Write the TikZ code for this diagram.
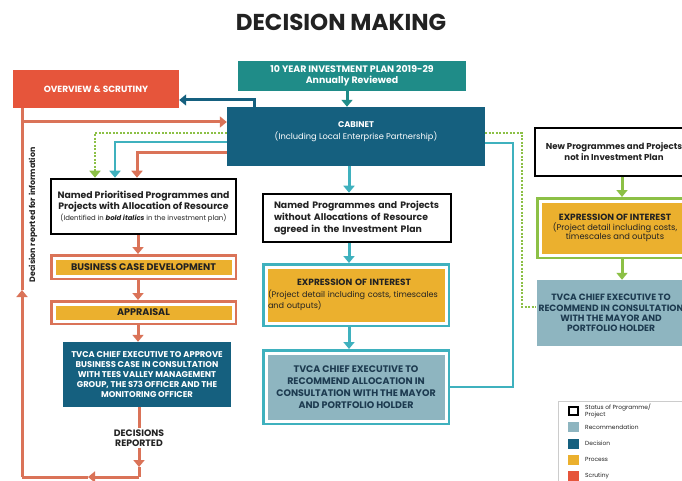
\documentclass[tikz,border=0pt]{standalone}
\usepackage{fontspec}
\setmainfont{Poppins}
\usetikzlibrary{arrows.meta}

\definecolor{scrutred}{HTML}{E6553B}
\definecolor{linered}{HTML}{DA7358}
\definecolor{planteal}{HTML}{1F8C88}
\definecolor{decblue}{HTML}{15607F}
\definecolor{procgold}{HTML}{EBB02E}
\definecolor{recgrey}{HTML}{8EB5C0}
\definecolor{rectext}{HTML}{1D3B50}
\definecolor{lineteal}{HTML}{3FB1BE}
\definecolor{linegreen}{HTML}{8CC046}
\definecolor{textdark}{HTML}{222222}

\begin{document}
\begin{tikzpicture}[x=1pt, y=-1pt, >={Triangle[width=11pt,length=7pt]},
	every node/.style={inner sep=2pt, align=center},
	statusbox/.style={draw=black, line width=2.5pt, fill=white, text=textdark, font=\fontsize{9.3}{11}\selectfont\bfseries},
	procbox/.style={fill=procgold, draw=white, line width=3pt, preaction={draw=#1, line width=8pt}, outer sep=4pt, text=textdark},
	decbox/.style={fill=decblue, text=white, font=\fontsize{8.4}{10.2}\selectfont\bfseries},
	recbox/.style={fill=recgrey, text=rectext, font=\fontsize{9.5}{12}\selectfont\bfseries},
	redline/.style={draw=linered, line width=3pt},
	tealline/.style={draw=lineteal, line width=2.5pt},
	greenline/.style={draw=linegreen, line width=2.5pt, dash pattern=on 2pt off 1.5pt},
	legsq/.style={minimum width=11pt, minimum height=10pt, inner sep=0pt},
	leglabel/.style={anchor=west, align=left, text=textdark, font=\fontsize{5.9}{5.9}\selectfont}]
	\clip (0,0) rectangle (682,481);
	\fill[white] (0,0) rectangle (682,481);
	\node[text=textdark, font=\fontsize{23}{26}\selectfont\bfseries] (title) at (341,22) {DECISION MAKING};

	% top row
	\node[fill=scrutred, text=white, minimum width=166pt, minimum height=38pt, font=\fontsize{9}{10}\selectfont\bfseries] (overview) at (96,89) {OVERVIEW \& SCRUTINY};
	\node[fill=planteal, text=white, minimum width=228pt, minimum height=30pt, font=\fontsize{9.4}{11}\selectfont\bfseries] (plan) at (352,76) {10 YEAR INVESTMENT PLAN 2019-29\\Annually Reviewed};
	\node[fill=decblue, text=white, minimum width=258pt, minimum height=59pt, text depth=12pt, font=\fontsize{8.3}{12}\selectfont] (cabinet) at (356,136.5) {\textbf{CABINET}\\(Including Local Enterprise Partnership)};

	% left column
	\node[statusbox, minimum width=185pt, minimum height=55pt, inner xsep=0pt] (prio) at (143.5,206.5) {Named Prioritised Programmes and\\Projects with Allocation of Resource\\{\fontsize{6.9}{10}\selectfont\mdseries (Identified in \textbf{\itshape bold italics} in the investment plan)}};
	\node[procbox=linered, minimum width=179pt, minimum height=18pt, font=\fontsize{9.6}{10}\selectfont\bfseries] (bcd) at (143.5,267) {BUSINESS CASE DEVELOPMENT};
	\node[procbox=linered, minimum width=179pt, minimum height=17pt, font=\fontsize{9.6}{10}\selectfont\bfseries] (appr) at (143.5,312.5) {APPRAISAL};
	\node[decbox, minimum width=168pt, minimum height=65pt] (approve) at (147,374.5) {TVCA CHIEF EXECUTIVE TO APPROVE\\BUSINESS CASE IN CONSULTATION\\WITH TEES VALLEY MANAGEMENT\\GROUP, THE S73 OFFICER AND THE\\MONITORING OFFICER};
	\node[text=textdark, font=\fontsize{9.3}{10.5}\selectfont\bfseries, inner sep=1pt] (reported) at (139,438) {DECISIONS\\REPORTED};
	\node[rotate=90, text=textdark, font=\fontsize{7.9}{9}\selectfont\bfseries] (sidenote) at (33,215) {Decision reported for information};

	% middle column
	\node[statusbox, align=left, text width=166pt, inner xsep=11pt, minimum height=48pt, font=\fontsize{9.3}{12}\selectfont\bfseries] (mid) at (357,218) {Named Programmes and Projects\\without Allocations of Resource\\agreed in the Investment Plan};
	\node[procbox=lineteal, align=left, text width=176pt, inner xsep=2pt, minimum width=180pt, minimum height=56pt, font=\fontsize{8.1}{11.5}\selectfont] (meoi) at (356,295) {\makebox[172pt]{\fontsize{9}{11.5}\selectfont\bfseries EXPRESSION OF INTEREST}\\(Project detail including costs, timescales\\and outputs)};
	\node[recbox, preaction={draw=lineteal, line width=8pt}, draw=white, line width=3pt, outer sep=4pt, minimum width=180pt, minimum height=68pt] (mrec) at (356,387) {TVCA CHIEF EXECUTIVE TO\\RECOMMEND ALLOCATION IN\\CONSULTATION WITH THE MAYOR\\AND PORTFOLIO HOLDER};

	% right column
	\node[statusbox, minimum width=158pt, minimum height=48pt, font=\fontsize{8.6}{11}\selectfont\bfseries] (new) at (614,152) {New Programmes and Projects\\not in Investment Plan};
	\node[procbox=linegreen, minimum width=150pt, minimum height=54pt, font=\fontsize{8.3}{9.5}\selectfont] (reoi) at (615,228) {\fontsize{9}{9.5}\selectfont\bfseries EXPRESSION OF INTEREST\\(Project detail including costs,\\timescales and outputs};
	\node[recbox, minimum width=148pt, minimum height=66pt, font=\fontsize{9.1}{10.2}\selectfont\bfseries] (rrec) at (611,313) {TVCA CHIEF EXECUTIVE TO\\RECOMMEND IN CONSULTATION\\WITH THE MAYOR AND\\PORTFOLIO HOLDER};
	\fill[recgrey] (rrec.north east) rectangle (690,346);

	% legend
	\draw[black!20, line width=0.6pt] (558,401) rectangle (700,495);
	\node[legsq, draw=black, line width=1.5pt, fill=white, minimum width=9pt, minimum height=8pt] (kstatus) at (573.5,411) {};
	\node[leglabel] (lstatus) at (583,411) {Status of Programme/\\Project};
	\node[legsq, fill=recgrey] (krec) at (573.5,427) {};
	\node[leglabel] (lrec) at (583,427) {Recommendation};
	\node[legsq, fill=decblue] (kdec) at (573.5,443.5) {};
	\node[leglabel] (ldec) at (583,443.5) {Decision};
	\node[legsq, fill=procgold] (kproc) at (573.5,459.5) {};
	\node[leglabel] (lproc) at (583,459.5) {Process};
	\node[legsq, fill=scrutred] (kscrut) at (573.5,476) {};
	\node[leglabel] (lscrut) at (583,476) {Scrutiny};

	% turning points
	\coordinate (bj) at (254,100);
	\coordinate (pcol) at (347,0);
	\coordinate (lx) at (22,122);
	\coordinate (gj) at (95,133);
	\coordinate (tj) at (115,142);
	\coordinate (rj) at (137,153);
	\coordinate (gr) at (522,133);
	\coordinate (gr2) at (522,307);
	\coordinate (tr) at (513,143);
	\coordinate (lcol) at (138,0);
	\coordinate (mcol) at (349,0);
	\coordinate (rcol) at (622,0);
	\coordinate (lmid) at (22,290);
	\coordinate (lbot) at (22,477);
	\coordinate (dtip) at (139,467);
	\coordinate (bcorner) at (139,477);
	\coordinate (btip) at (88,477);

	% connectors
	\draw[->, draw=planteal, line width=3pt] (plan.south -| pcol) -- (cabinet.north -| pcol);
	\draw[->, draw=decblue, line width=3pt] (cabinet.north -| bj) -- (bj) -- (overview.east |- bj);
	\draw[->, redline] (lx) -- (cabinet.west |- lx);
	\draw[->, redline] (lbot) -- (lmid);
	\draw[redline] (lmid) -- (overview.south -| lbot);
	\draw[->, greenline] (cabinet.west |- gj) -- (gj) -- (prio.north -| gj);
	\draw[->, tealline] (cabinet.west |- tj) -- (tj) -- (prio.north -| tj);
	\draw[->, redline] (cabinet.west |- rj) -- (rj) -- (prio.north -| rj);
	\draw[greenline] (cabinet.east |- gr) -- (gr) -- (gr2) -- (rrec.west |- gr2);
	\draw[tealline] (cabinet.east |- tr) -- (tr) |- (mrec.east);

	\draw[->, redline] (prio.south -| lcol) -- (bcd.north -| lcol);
	\draw[->, redline] (bcd.south -| lcol) -- (appr.north -| lcol);
	\draw[->, redline] (appr.south -| lcol) -- (approve.north -| lcol);
	\draw[redline] (approve.south -| reported) -- (reported.north);
	\draw[->, redline] (reported.south) -- (dtip);
	\draw[redline] (dtip) -- (bcorner);
	\draw[->, redline] (bcorner) -- (btip);
	\draw[redline] (btip) -- (lbot);

	\draw[->, tealline, line width=3pt] (cabinet.south -| mcol) -- (mid.north -| mcol);
	\draw[->, tealline, line width=3pt] (mid.south -| mcol) -- (meoi.north -| mcol);
	\draw[->, tealline, line width=3pt] (meoi.south -| mcol) -- (mrec.north -| mcol);

	\draw[->, draw=linegreen, line width=3pt] (new.south -| rcol) -- (reoi.north -| rcol);
	\draw[->, draw=linegreen, line width=3pt] (reoi.south -| rcol) -- (rrec.north -| rcol);
\end{tikzpicture}
\end{document}
